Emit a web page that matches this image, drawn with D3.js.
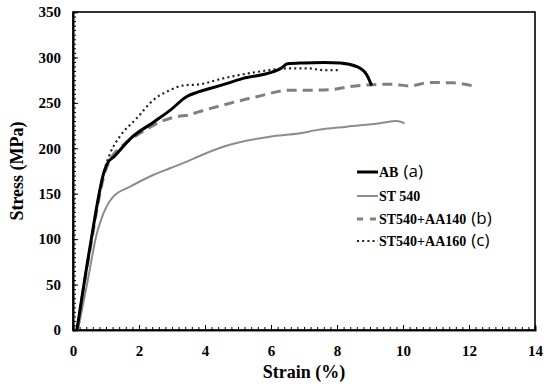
<!DOCTYPE html>
<html><head><meta charset="utf-8">
<script src="https://cdn.jsdelivr.net/npm/d3@7"></script>
<style>body{margin:0;background:#fff}svg{display:block}</style>
</head><body>
<svg id="c" width="550" height="386"></svg>
<script>
// Data
const abStrain = [0.12, 0.5, 0.95, 1.05, 1.25, 1.75, 2.45, 2.95, 3.45, 3.8, 4.55, 5.15, 6.05, 6.3, 6.5, 7.0, 7.6, 8.1, 8.6, 8.9, 9.05];
const abStress = [0, 88, 175, 184, 191, 211, 229, 242, 257, 262, 270, 277, 284, 288, 293, 294, 294.5, 294, 290, 281, 269];

const st540Strain = [0.15, 0.45, 0.72, 0.82, 0.92, 1.05, 1.22, 1.73, 2.43, 2.94, 3.55, 3.8, 4.55, 5.97, 6.88, 7.38, 8.3, 9.3, 9.8, 10.05];
const st540Stress = [0, 55, 106, 118, 128, 138, 146.7, 157.7, 170.6, 178, 187, 191, 201.7, 212.8, 216.5, 220, 223.8, 227.5, 230, 227.5];

const aa140Strain = [0.12, 0.5, 1.0, 1.12, 1.5, 2.03, 2.64, 3.14, 3.55, 3.8, 4.55, 5.57, 6.58, 7.27, 7.8, 8.4, 9.1, 9.7, 10.2, 10.8, 11.5, 12.2];
const aa140Stress = [0, 85, 177, 187, 203, 216.5, 229, 234.8, 237, 240, 247.6, 256.8, 264, 264, 264.5, 268, 270, 270.5, 268.5, 272.5, 272, 268];

const aa160Strain = [0.12, 0.5, 1.0, 1.12, 1.42, 1.93, 2.43, 2.94, 3.4, 3.75, 4.55, 5.57, 6.58, 7.1, 7.6, 8.1];
const aa160Stress = [0, 88, 182, 194, 213, 233, 253, 264, 269.5, 270, 277, 284, 288, 288, 286, 286];

const seriesNames = ["AB", "ST 540", "ST540+AA140", "ST540+AA160"];
const seriesTags = ["(a)", "", "(b)", "(c)"];
const xTicks = [0, 2, 4, 6, 8, 10, 12, 14];
const yTicks = [0, 50, 100, 150, 200, 250, 300, 350];

const styles = [
  {stroke: "#000", width: 3, dash: null},
  {stroke: "#8c8c8c", width: 2, dash: null},
  {stroke: "#808080", width: 3, dash: "10,6"},
  {stroke: "#222", width: 2.2, dash: "2,3.2"}
];
const series = [
  [abStrain, abStress],
  [st540Strain, st540Stress],
  [aa140Strain, aa140Stress],
  [aa160Strain, aa160Stress]
];

const L = 73, T = 12, R = 535, B = 330;
const svg = d3.select("#c");
const x = d3.scaleLinear().domain([0, 14]).range([L, R]);
const y = d3.scaleLinear().domain([0, 350]).range([B, T]);
const serif = "'Liberation Serif','Times New Roman',serif";

// frame
svg.append("rect").attr("x", L).attr("y", T).attr("width", R - L).attr("height", B - T)
  .attr("fill", "none").attr("stroke", "#000").attr("stroke-width", 1.6);

// minor ticks (inside)
const xMinor = d3.range(0, 14.001, 0.2);
const yMinor = d3.range(0, 350.001, 5);
const gx = svg.append("g").attr("transform", `translate(0,${B})`)
  .call(d3.axisBottom(x).tickValues(xMinor).tickSize(-3).tickFormat(""));
const gx2 = svg.append("g").attr("transform", `translate(0,${B})`)
  .call(d3.axisBottom(x).tickValues(xTicks).tickSize(-5).tickPadding(12).tickFormat(d3.format("d")));
const gy = svg.append("g").attr("transform", `translate(${L},0)`)
  .call(d3.axisLeft(y).tickValues(yMinor).tickSize(-3).tickFormat(""));
const gy2 = svg.append("g").attr("transform", `translate(${L},0)`)
  .call(d3.axisLeft(y).tickValues(yTicks).tickSize(-5).tickPadding(12).tickFormat(d3.format("d")));
[gx, gx2, gy, gy2].forEach(g => {
  g.select(".domain").attr("stroke", "#000").attr("stroke-width", 1.6);
  g.selectAll(".tick line").attr("stroke", "#000").attr("stroke-width", 1);
  g.selectAll("text").attr("font-family", serif).attr("font-weight", "bold")
    .attr("font-size", 15).attr("fill", "#000");
});
gx2.selectAll("text").attr("dy", "0.9em");

// axis titles
svg.append("text").attr("x", (L + R) / 2).attr("y", 378).attr("text-anchor", "middle")
  .attr("font-family", serif).attr("font-weight", "bold").attr("font-size", 18).text("Strain (%)");
svg.append("text").attr("transform", `translate(23,${(T + B) / 2}) rotate(-90)`)
  .attr("text-anchor", "middle").attr("font-family", serif).attr("font-weight", "bold")
  .attr("font-size", 18).text("Stress (MPa)");

// curves
const line = d3.line().x(d => x(d[0])).y(d => y(d[1])).curve(d3.curveMonotoneX);
const order = [1, 2, 3, 0];
order.forEach(i => {
  const [xs, ys] = series[i];
  const pts = xs.map((v, k) => [v, ys[k]]);
  const p = svg.append("path").datum(pts).attr("d", line).attr("fill", "none")
    .attr("stroke", styles[i].stroke).attr("stroke-width", styles[i].width)
    .attr("stroke-linejoin", "round");
  if (styles[i].dash) p.attr("stroke-dasharray", styles[i].dash);
});

// legend
const legY = [172, 196, 219, 241];
seriesNames.forEach((name, i) => {
  const g = svg.append("g");
  const ln = g.append("line").attr("x1", 357).attr("x2", 378).attr("y1", legY[i]).attr("y2", legY[i])
    .attr("stroke", styles[i].stroke).attr("stroke-width", styles[i].width);
  if (styles[i].dash) ln.attr("stroke-dasharray", i === 2 ? "6,7" : styles[i].dash);
  const t = g.append("text").attr("x", 379).attr("y", legY[i] + 5)
    .attr("font-family", serif).attr("font-weight", "bold").attr("font-size", 14).attr("fill", "#000");
  t.append("tspan").text(name);
  if (seriesTags[i]) {
    t.append("tspan").attr("font-family", "'Open Sans','Noto Sans',sans-serif")
      .attr("font-weight", "normal").attr("font-size", 17).attr("dx", 5).text(seriesTags[i]);
  }
});
</script>
</body></html>
